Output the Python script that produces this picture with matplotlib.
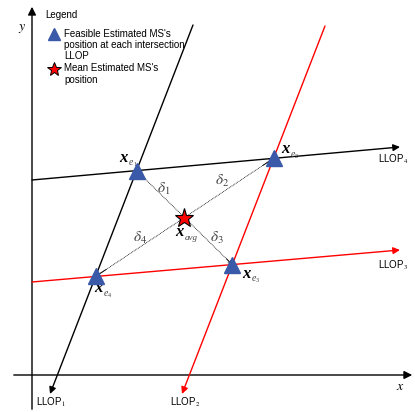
import matplotlib
matplotlib.use("Agg")
from matplotlib import pyplot as plt
import numpy as np

plt.rcParams['font.family'] = ['Liberation Sans', 'DejaVu Sans']
plt.rcParams['mathtext.fontset'] = 'stix'

# diagram in pixel coordinates (y grows downwards)
llop_names = ['LLOP$_1$', 'LLOP$_2$', 'LLOP$_3$', 'LLOP$_4$']
llop_start = [(193, 25), (325, 26), (32, 282), (32, 180)]
llop_end = [(50, 394), (182, 394), (400, 250), (400, 147)]
llop_colors = ['black', 'red', 'red', 'black']
llop_label_pos = [(36, 402), (170, 402), (378, 265), (378, 159)]

# which pair of LLOPs gives each feasible estimate x_e1..x_e4
pairs = [(0, 3), (1, 3), (1, 2), (0, 2)]
est_subs = ['1', '2', '3', '4']
est_label_off = [(-13, -13), (12, -9), (14, 9), (3, 12)]
delta_labels = [r'$\delta_1$', r'$\delta_2$', r'$\delta_3$', r'$\delta_4$']
delta_pos = [(164, 189), (222, 181), (217, 238), (140, 238)]

blue = '#3A59A8'


def intersect(i, j):
    p1, p2 = np.array(llop_start[i], float), np.array(llop_end[i], float)
    p3, p4 = np.array(llop_start[j], float), np.array(llop_end[j], float)
    d1, d2 = p2 - p1, p4 - p3
    t = np.cross(p3 - p1, d2) / np.cross(d1, d2)
    return p1 + t * d1


def bold_x(x, y, sub, subsub=None):
    # bold italic x with small grey subscript
    ax.text(x, y, 'x', fontsize=12, family='Liberation Serif', weight='bold',
            style='italic', ha='center', va='center')
    if subsub is None:
        ax.text(x + 5, y + 6, sub, fontsize=6.5, family='Liberation Serif',
                style='italic', color='#444444', ha='left', va='center')
    else:
        ax.text(x + 5, y + 5, sub, fontsize=7, family='Liberation Serif',
                style='italic', color='#444444', ha='left', va='center')
        ax.text(x + 9.5, y + 7, subsub, fontsize=4.5, family='Liberation Serif',
                color='#444444', ha='left', va='center')


fig = plt.figure(figsize=(4.15, 4.12), dpi=100)
ax = fig.add_axes([0, 0, 1, 1])
ax.set_xlim(0, 415)
ax.set_ylim(412, 0)
ax.axis('off')

# coordinate axes
ax.annotate('', xy=(415, 375), xytext=(11, 375),
            arrowprops=dict(arrowstyle='-|>', color='black', lw=1.0, mutation_scale=12))
ax.annotate('', xy=(32, 4), xytext=(32, 412),
            arrowprops=dict(arrowstyle='-|>', color='black', lw=1.0, mutation_scale=12))
ax.text(400, 386, '$x$', fontsize=10, ha='center', va='center')
ax.text(22, 28, '$y$', fontsize=10, ha='center', va='center')

# LLOP lines
for s, e, c, name, lp in zip(llop_start, llop_end, llop_colors, llop_names, llop_label_pos):
    ax.annotate('', xy=e, xytext=s,
                arrowprops=dict(arrowstyle='-|>', color=c, lw=1.0, mutation_scale=10,
                                shrinkA=0, shrinkB=0))
    ax.text(lp[0], lp[1], name, fontsize=7, ha='left', va='center')

pts = np.array([intersect(i, j) for i, j in pairs])
avg = pts.mean(axis=0)

# dotted deviations
for p, dl, dp in zip(pts, delta_labels, delta_pos):
    ax.plot([avg[0], p[0]], [avg[1], p[1]], color='black', lw=0.6, ls=(0, (1, 1.0)))
    ax.annotate('', xy=p, xytext=avg + 0.88 * (p - avg),
                arrowprops=dict(arrowstyle='->', color='black', lw=0.6, mutation_scale=6,
                                shrinkA=0, shrinkB=0))
    ax.text(dp[0], dp[1], dl, fontsize=11, color='#444444', ha='center', va='center')

ax.plot(pts[:, 0], pts[:, 1], ls='none', marker='^', ms=12, color=blue, zorder=5)
ax.plot(avg[0], avg[1], ls='none', marker='*', ms=14, mfc='red', mec='black', mew=0.8, zorder=6)

for p, sub, off in zip(pts, est_subs, est_label_off):
    bold_x(p[0] + off[0], p[1] + off[1], 'e', sub)
bold_x(avg[0] - 5, avg[1] + 14, 'avg')

# legend
ax.text(45, 15, 'Legend', fontsize=7, ha='left', va='center')
ax.plot(54, 34, ls='none', marker='^', ms=8.5, color=blue)
ax.text(64, 45, "Feasible Estimated MS's\nposition at each intersection\nLLOP",
        fontsize=7, ha='left', va='center', linespacing=1.15)
ax.plot(54, 69, ls='none', marker='*', ms=10, mfc='red', mec='black', mew=0.7)
ax.text(64, 74, "Mean Estimated MS's\nposition", fontsize=7, ha='left', va='center',
        linespacing=1.15)

fig.savefig('out.png', dpi=100)
